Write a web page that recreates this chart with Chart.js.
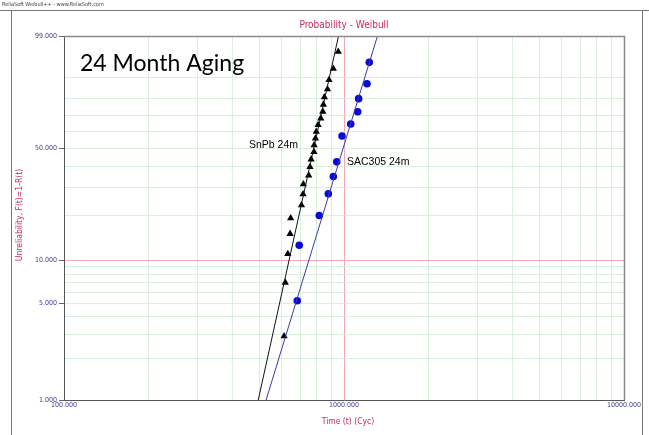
<!DOCTYPE html>
<html>
<head>
<meta charset="utf-8">
<script src="https://cdn.jsdelivr.net/npm/chart.js@4/dist/chart.umd.min.js"></script>
<style>
  html, body { margin: 0; padding: 0; background: #fff; }
  #wrap { width: 649px; height: 435px; }
</style>
</head>
<body>
<div id="wrap"><canvas id="chart" width="649" height="435"></canvas></div>
<script>
// failure times (cycles) and unreliability (%) per test group
const snpbTime = [611, 617, 630, 642, 645, 705, 714, 716, 748, 756, 763, 781, 782, 791, 796, 808, 826, 840, 844, 851, 873, 884, 916, 954];
const snpbF    = [2.9, 7.0, 11.1, 15.2, 19.3, 23.4, 27.5, 31.6, 35.7, 39.8, 43.9, 48.0, 52.0, 56.1, 60.2, 64.3, 68.4, 72.5, 76.6, 80.7, 84.8, 88.9, 93.0, 97.1];

const sacTime = [681, 692, 816, 879, 916, 942, 984, 1057, 1119, 1128, 1208, 1231];
const sacF    = [5.2, 12.7, 20.1, 27.6, 35.1, 42.5, 57.5, 64.9, 72.4, 79.9, 87.3, 94.8];

// fitted Weibull lines, end points at 1% and 99%
const fitF        = [1, 99];
const snpbFitTime = [494, 956];
const sacFitTime  = [527, 1317];

// axis grid and labels
const yGridF   = [1, 2, 3, 4, 5, 6, 7, 8, 9, 10, 20, 30, 40, 50, 60, 70, 80, 90, 99];
const yLabelF  = [1, 5, 10, 50, 99];
const xGridT   = [100, 200, 300, 400, 500, 600, 700, 800, 900, 1000, 2000, 3000, 4000, 5000, 6000, 7000, 8000, 9000, 10000];
const xLabelT  = [100, 1000, 10000];

// Weibull probability paper: y = ln(-ln(1-F))
const wb = f => Math.log(-Math.log(1 - f / 100));
const pts = (ts, fs) => ts.map((t, i) => ({ x: t, y: wb(fs[i]) }));

const TICK_COLOR = '#3c3c8c';
const TITLE_COLOR = '#c42b5c';
const GRID_GREEN = '#dcefdc';
const GRID_RED = '#f2a9b4';

const frame = {
    id: 'frame',
    beforeDraw(chart) {
        const c = chart.ctx;
        c.save();
        c.fillStyle = '#fff';
        c.fillRect(0, 0, chart.width, chart.height);
        c.restore();
    },
    afterDraw(chart) {
        const c = chart.ctx;
        const a = chart.chartArea;
        c.save();
        // window frame and header strip
        c.strokeStyle = '#777';
        c.lineWidth = 1;
        c.beginPath();
        c.moveTo(0, 10.5); c.lineTo(649, 10.5);
        c.moveTo(11.5, 10.5); c.lineTo(11.5, 435);
        c.moveTo(642.5, 10.5); c.lineTo(642.5, 435);
        c.stroke();
        c.fillStyle = '#444';
        c.font = '5.5px "DejaVu Sans Condensed"';
        c.textBaseline = 'middle';
        c.fillText('ReliaSoft Weibull++ - www.ReliaSoft.com', 2, 5);

        // top and right edges of the plot box
        c.strokeStyle = '#8a8a8a';
        c.lineWidth = 1.5;
        c.beginPath();
        c.moveTo(a.left, a.top + 0.5); c.lineTo(a.right + 0.5, a.top + 0.5); c.lineTo(a.right + 0.5, a.bottom);
        c.stroke();

        // titles
        c.fillStyle = TITLE_COLOR;
        c.textAlign = 'center';
        c.font = '10px "DejaVu Sans Condensed"';
        c.fillText('Probability - Weibull', (a.left + a.right) / 2, 25);
        c.font = '8.5px "DejaVu Sans Condensed"';
        c.fillText('Time (t) (Cyc)', 348, 422);
        c.translate(20, 215);
        c.rotate(-Math.PI / 2);
        c.fillText('Unreliability, F(t)=1-R(t)', 0, 0);
        c.restore();

        // annotations
        c.save();
        c.fillStyle = '#000';
        c.textBaseline = 'middle';
        c.font = '23px Lato';
        c.fillText('24 Month Aging', 80, 64);
        c.font = '10.5px "Liberation Sans"';
        c.fillText('SnPb 24m', 249, 145);
        c.fillText('SAC305 24m', 347, 162);
        c.restore();
    }
};

new Chart(document.getElementById('chart'), {
    type: 'scatter',
    data: {
        datasets: [
            {
                label: 'SnPb fit',
                data: pts(snpbFitTime, fitF),
                showLine: true,
                borderColor: '#111',
                borderWidth: 1,
                pointRadius: 0
            },
            {
                label: 'SAC305 fit',
                data: pts(sacFitTime, fitF),
                showLine: true,
                borderColor: '#3a3aa8',
                borderWidth: 1,
                pointRadius: 0
            },
            {
                label: 'SnPb 24m',
                data: pts(snpbTime, snpbF),
                pointStyle: 'triangle',
                pointRadius: 4.2,
                backgroundColor: '#000',
                borderColor: '#000',
                borderWidth: 0
            },
            {
                label: 'SAC305 24m',
                data: pts(sacTime, sacF),
                pointStyle: 'circle',
                pointRadius: 3.8,
                backgroundColor: '#0a0ad8',
                borderColor: '#0a0ad8',
                borderWidth: 0
            }
        ]
    },
    options: {
        responsive: false,
        animation: false,
        layout: { padding: { top: 36, right: 25, left: 0, bottom: 0 } },
        plugins: {
            legend: { display: false },
            tooltip: { enabled: false }
        },
        scales: {
            x: {
                type: 'logarithmic',
                min: 100,
                max: 10000,
                afterFit: s => { s.height = 35; },
                afterBuildTicks: s => { s.ticks = xGridT.map(v => ({ value: v })); },
                ticks: {
                    autoSkip: false,
                    maxRotation: 0,
                    padding: 1,
                    color: TICK_COLOR,
                    font: { family: 'DejaVu Sans Condensed', size: 7 },
                    callback: v => xLabelT.includes(v) ? v.toFixed(3) : ''
                },
                grid: {
                    drawTicks: false,
                    color: ctx => ctx.tick && ctx.tick.value === 1000 ? GRID_RED : GRID_GREEN
                },
                border: { color: '#555', width: 1 }
            },
            y: {
                type: 'linear',
                min: wb(1),
                max: wb(99),
                afterFit: s => { s.width = 64; },
                afterBuildTicks: s => { s.ticks = yGridF.map(f => ({ value: wb(f) })); },
                ticks: {
                    autoSkip: false,
                    padding: 2,
                    color: TICK_COLOR,
                    font: { family: 'DejaVu Sans Condensed', size: 7 },
                    callback: (v, i) => yLabelF.includes(yGridF[i]) ? yGridF[i].toFixed(3) : ''
                },
                grid: {
                    tickLength: 5,
                    color: ctx => ctx.index !== undefined && yGridF[ctx.index] === 10 ? GRID_RED : GRID_GREEN,
                    tickColor: ctx => ctx.index !== undefined && yLabelF.includes(yGridF[ctx.index]) ? '#666' : 'rgba(0,0,0,0)'
                },
                border: { color: '#555', width: 1 }
            }
        }
    },
    plugins: [frame]
});
</script>
</body>
</html>
